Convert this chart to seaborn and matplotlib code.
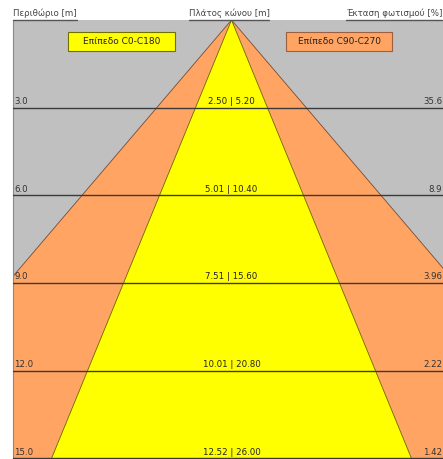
import numpy as np
import pandas as pd
import matplotlib
matplotlib.use("Agg")
import matplotlib.pyplot as plt
from matplotlib.patches import Rectangle
from matplotlib.lines import Line2D
import seaborn as sns

# depth levels [m] and cone widths for the two planes
depths = [3.0, 6.0, 9.0, 12.0, 15.0]
width_c0 = [2.50, 5.01, 7.51, 10.01, 12.52]
width_c90 = [5.20, 10.40, 15.60, 20.80, 26.00]
illum = ["35.6", "8.9", "3.96", "2.22", "1.42"]

sns.set_style("white")
plt.rcParams['font.family'] = ['DejaVu Sans']

W, H = 443, 459
fs = 6.2
fig = plt.figure(figsize=(W / 100, H / 100), dpi=100)
# axes runs a bit past the right edge, like the cropped original
ax = fig.add_axes([13 / W, 0, 437 / W, 439 / H])
ax.set_facecolor("#c0c0c0")

df = pd.DataFrame({"depth": depths, "c0": width_c0, "c90": width_c90})
d_max = df["depth"].iloc[-1]

# cones: apex at (0, 0), opening downwards
h90 = df["c90"].iloc[-1] / 2
h0 = df["c0"].iloc[-1] / 2
ax.fill([0, -h90, h90], [0, d_max, d_max], color="#ffa463", ec="#7a4a30", lw=0.6, zorder=1)
ax.fill([0, -h0, h0], [0, d_max, d_max], color="#ffff00", ec="#6a6a00", lw=0.6, zorder=2)

# depth lines
for d in df["depth"]:
    ax.axhline(d, color="#3a3a3a", lw=1.0, zorder=3)

for i, row in df.iterrows():
    y = row["depth"] - 0.06
    ax.text(-7.55, y, f"{row['depth']:.1f}", fontsize=fs, color="#333333", va="bottom", ha="left", zorder=4)
    ax.text(0, y, f"{row['c0']:.2f} | {row['c90']:.2f}", fontsize=fs, color="#222222", va="bottom", ha="center", zorder=4)
    ax.text(7.33, y, illum[i], fontsize=fs, color="#333333", va="bottom", ha="right", zorder=4)

# legend boxes
ax.add_patch(Rectangle((-5.67, 0.41), 3.72, 0.65, fc="#ffff00", ec="#707000", lw=0.8, zorder=5))
ax.text(-3.81, 0.74, "Επίπεδο C0-C180", fontsize=6.5, ha="center", va="center", zorder=6, color="#222222")
ax.add_patch(Rectangle((1.88, 0.41), 3.72, 0.65, fc="#ffa463", ec="#9a6040", lw=0.8, zorder=5))
ax.text(3.74, 0.74, "Επίπεδο C90-C270", fontsize=6.5, ha="center", va="center", zorder=6, color="#222222")

ax.set_xlim(-7.6, 7.6)
ax.set_ylim(15.02, 0)
ax.set_xticks([])
ax.set_yticks([])
for s in ["top", "right", "bottom"]:
    ax.spines[s].set_visible(False)
ax.spines["left"].set_color("#888888")
ax.spines["left"].set_linewidth(0.8)

top = 1 - 13 / H
heads = [
    fig.text(13 / W, top, "Περιθώριο [m]", fontsize=fs, color="#444444", ha="left", va="center"),
    fig.text(229 / W, top, "Πλάτος κώνου [m]", fontsize=fs, color="#444444", ha="center", va="center"),
    fig.text(442 / W, top, "Έκταση φωτισμού [%]", fontsize=fs, color="#444444", ha="right", va="center"),
]

# underline the header texts along the top of the plot area
fig.canvas.draw()
r = fig.canvas.get_renderer()
for t in heads:
    bb = t.get_window_extent(r)
    yl = 1 - 19.5 / H
    fig.add_artist(Line2D([bb.x0 / W, bb.x1 / W], [yl, yl], transform=fig.transFigure,
                          color="#555555", lw=1.0))

fig.savefig("out.png", dpi=100)
